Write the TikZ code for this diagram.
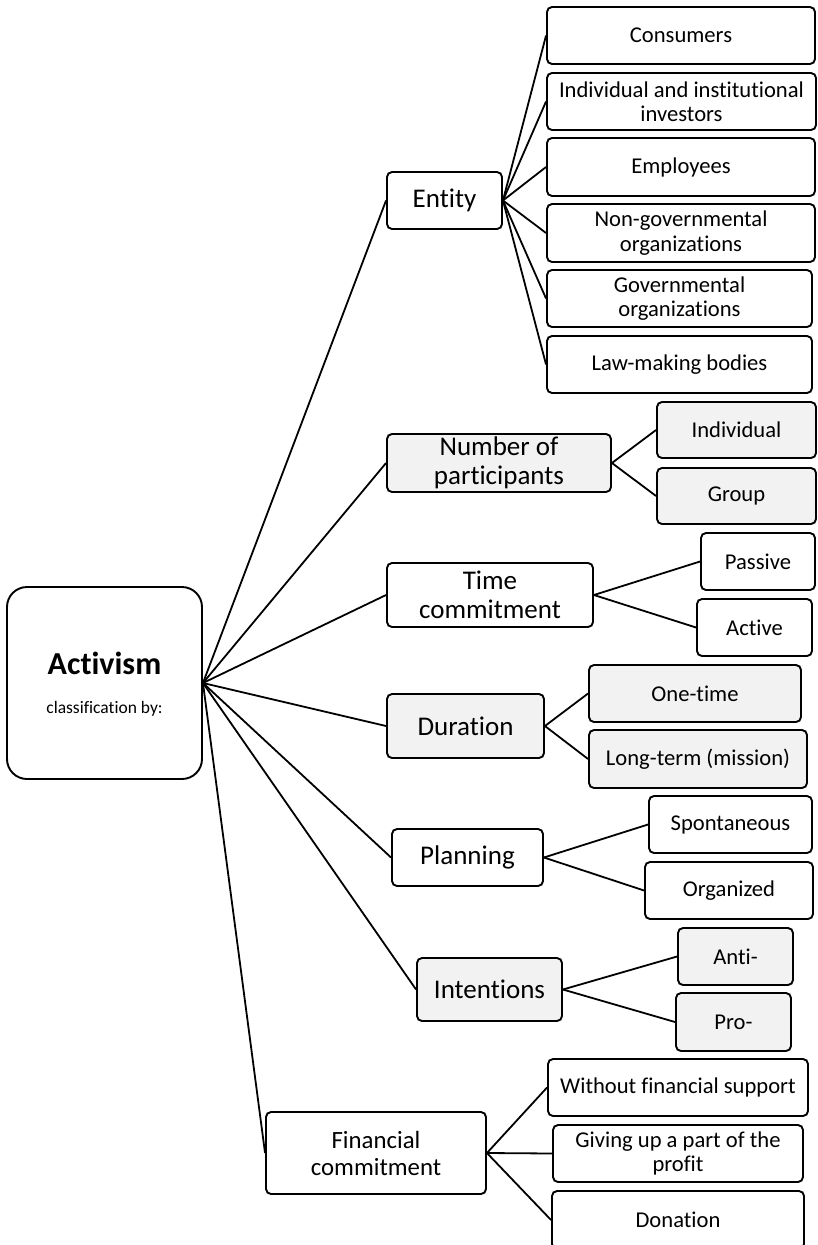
\documentclass[tikz,border=0pt]{standalone}
\usepackage{fontspec}
\setmainfont{Carlito}[Ligatures=NoCommon]
\definecolor{boxgray}{HTML}{F2F2F2}
\tikzset{
  base/.style={draw=black, line width=1.9pt, rounded corners=5pt, inner sep=0pt, align=center, fill=white},
  leaf/.style={base, font=\fontsize{22.6}{24.2}\selectfont},
  mid/.style={base, font=\fontsize{27}{29}\selectfont},
  fmid/.style={base, font=\fontsize{24.8}{27}\selectfont},
  shaded/.style={fill=boxgray},
  conn/.style={draw=black, line width=1.8pt},
  rootbox/.style={draw=black, line width=1.9pt, rounded corners=20pt, inner sep=0pt, fill=white}
}
\newcommand\placebox[7]{%
  \node[#1, minimum width=#4pt-#2pt, minimum height=#5pt-#3pt] (#6) at ({(#2+#4)/2},{(#3+#5)/2}) {#7};}
\begin{document}
\begin{tikzpicture}[x=1pt,y=-1pt]
\useasboundingbox (0,0) rectangle (817,1245);
% root
\placebox{rootbox}{7}{587}{202}{779}{act}{}
\node[anchor=base, font=\fontsize{32}{34}\selectfont\bfseries] (acttitle) at (104.5,674) {Activism};
\node[anchor=base, font=\fontsize{17.5}{19}\selectfont] (actsub) at (104.5,713) {classification by:};
% entity
\placebox{mid}{387}{172}{502}{229}{ent}{Entity}
\placebox{leaf}{547}{7}{815}{64}{c1}{Consumers}
\placebox{leaf}{547}{73}{816}{130}{c2}{Individual and institutional\\investors}
\placebox{leaf}{547}{138}{815}{196}{c3}{Employees}
\placebox{leaf}{547}{204}{815}{262}{c4}{Non-governmental\\organizations}
\placebox{leaf}{547}{270}{812}{327}{c5}{Governmental\\organizations}
\placebox{leaf}{547}{336}{812}{393}{c6}{Law-making bodies}
% number
\placebox{mid,shaded}{387}{434}{611}{492}{num}{Number of\\participants}
\placebox{leaf,shaded}{657}{402}{816}{458}{n1}{Individual}
\placebox{leaf,shaded}{657}{468}{816}{524}{n2}{Group}
% time
\placebox{mid}{387}{563}{593}{627}{tim}{Time\\commitment}
\placebox{leaf}{701}{533}{815}{590}{t1}{Passive}
\placebox{leaf}{697}{599}{812}{656}{t2}{Active}
% duration
\placebox{mid,shaded}{387}{694}{544}{758}{dur}{Duration}
\placebox{leaf,shaded}{589}{665}{801}{722}{d1}{One-time}
\placebox{leaf,shaded}{589}{730}{807}{788}{d2}{Long-term (mission)}
% planning
\placebox{mid}{392}{829}{543}{886}{pla}{Planning}
\placebox{leaf}{649}{796}{812}{853}{p1}{Spontaneous}
\placebox{leaf}{645}{862}{813}{919}{p2}{Organized}
% intentions
\placebox{mid,shaded}{417}{958}{562}{1021}{int}{Intentions}
\placebox{leaf,shaded}{678}{928}{793}{985}{i1}{Anti-}
\placebox{leaf,shaded}{676}{993}{791}{1051}{i2}{Pro-}
% financial
\placebox{fmid}{266}{1112}{486}{1194}{fin}{Financial\\commitment}
\placebox{leaf}{548}{1059}{808}{1116}{f1}{Without financial support}
\placebox{leaf}{553}{1125}{803}{1182}{f2}{Giving up a part of the\\profit}
\placebox{leaf}{552}{1191}{804}{1249}{f3}{Donation}
% connectors
\foreach \m in {ent,num,tim,dur,pla,int,fin} \draw[conn] (act.east) -- (\m.west);
\foreach \c in {c1,c2,c3,c4,c5,c6} \draw[conn] (ent.east) -- (\c.west);
\foreach \c in {n1,n2} \draw[conn] (num.east) -- (\c.west);
\foreach \c in {t1,t2} \draw[conn] (tim.east) -- (\c.west);
\foreach \c in {d1,d2} \draw[conn] (dur.east) -- (\c.west);
\foreach \c in {p1,p2} \draw[conn] (pla.east) -- (\c.west);
\foreach \c in {i1,i2} \draw[conn] (int.east) -- (\c.west);
\foreach \c in {f1,f2,f3} \draw[conn] (fin.east) -- (\c.west);
\end{tikzpicture}
\end{document}
